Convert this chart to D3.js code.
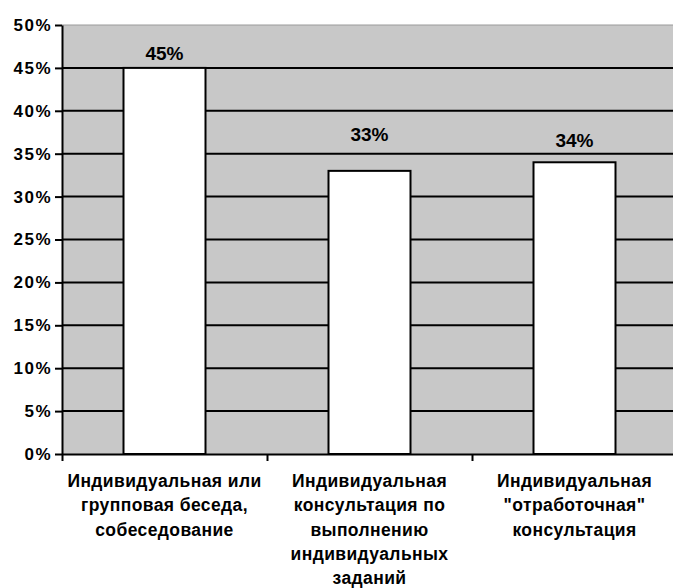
<!DOCTYPE html>
<html><head><meta charset="utf-8">
<script src="https://cdn.jsdelivr.net/npm/d3@7"></script>
<style>body{margin:0;background:#fff}svg{display:block}</style>
</head><body>
<svg id="c" width="673" height="588"></svg>
<script>
const categories = [
  ["Индивидуальная или", "групповая беседа,", "собеседование"],
  ["Индивидуальная", "консультация по", "выполнению", "индивидуальных", "заданий"],
  ["Индивидуальная", "\"отработочная\"", "консультация"]
];
const values = [45, 33, 34];
const valueLabels = ["45%", "33%", "34%"];
const yTicks = [0, 5, 10, 15, 20, 25, 30, 35, 40, 45, 50];
const labelGap = [8, 30, 15];

const svg = d3.select("#c");
const m = {left: 62, top: 25, right: 677, bottom: 454};
const x = d3.scaleBand().domain(d3.range(values.length)).range([m.left, m.right]).paddingInner(0).paddingOuter(0);
const y = d3.scaleLinear().domain([0, 50]).range([m.bottom, m.top]);
const font = "'Liberation Sans', Arial, sans-serif";

svg.append("rect").attr("x", m.left).attr("y", m.top).attr("width", m.right - m.left).attr("height", m.bottom - m.top).attr("fill", "#c8c8c8");
svg.append("line").attr("x1", m.left).attr("x2", m.right).attr("y1", m.top).attr("y2", m.top).attr("stroke", "#9a9a9a").attr("stroke-width", 1);

// gridlines
svg.append("g").selectAll("line").data(yTicks.filter(d => d > 0 && d < 50)).join("line")
  .attr("x1", m.left).attr("x2", m.right).attr("y1", d => y(d)).attr("y2", d => y(d))
  .attr("stroke", "#000").attr("stroke-width", 2);

// bars
const bw = x.bandwidth() * 0.4;
svg.append("g").selectAll("rect").data(values).join("rect")
  .attr("x", (d, i) => x(i) + (x.bandwidth() - bw) / 2)
  .attr("y", d => y(d)).attr("width", bw).attr("height", d => y(0) - y(d))
  .attr("fill", "#fff").attr("stroke", "#000").attr("stroke-width", 2);

// value labels
svg.append("g").selectAll("text").data(values).join("text")
  .attr("x", (d, i) => x(i) + x.bandwidth() / 2)
  .attr("y", (d, i) => y(d) - labelGap[i])
  .attr("text-anchor", "middle").attr("font-family", font).attr("font-weight", "bold").attr("font-size", 19)
  .text((d, i) => valueLabels[i]);

// y axis
const yAxis = d3.axisLeft(y).tickValues(yTicks).tickFormat(d => d + "%").tickSize(7).tickSizeOuter(0);
const ya = svg.append("g").attr("transform", `translate(${m.left},0)`).call(yAxis);
ya.select(".domain").attr("stroke", "#000").attr("stroke-width", 2);
ya.selectAll(".tick line").attr("stroke", "#000").attr("stroke-width", 2);
ya.selectAll(".tick text").attr("font-family", font).attr("font-weight", "bold").attr("font-size", 17)
  .attr("fill", "#000").attr("x", -10).attr("letter-spacing", 1.5);

// x axis
const xb = d3.scaleLinear().domain([0, values.length]).range([m.left, m.right]);
const xa = svg.append("g").attr("transform", `translate(0,${m.bottom})`)
  .call(d3.axisBottom(xb).tickValues(d3.range(values.length + 1)).tickFormat("").tickSize(7).tickSizeOuter(0));
xa.select(".domain").attr("stroke", "#000").attr("stroke-width", 2);
xa.selectAll(".tick line").attr("stroke", "#000").attr("stroke-width", 2);

// category labels
const cg = svg.append("g");
categories.forEach((lines, i) => {
  const t = cg.append("text").attr("text-anchor", "middle").attr("font-family", font)
    .attr("font-weight", "bold").attr("font-size", 17.5).attr("letter-spacing", 0.4).attr("fill", "#000");
  lines.forEach((l, j) => {
    t.append("tspan").attr("x", x(i) + x.bandwidth() / 2).attr("y", 487 + j * 24.3).text(l);
  });
});
</script>
</body></html>
